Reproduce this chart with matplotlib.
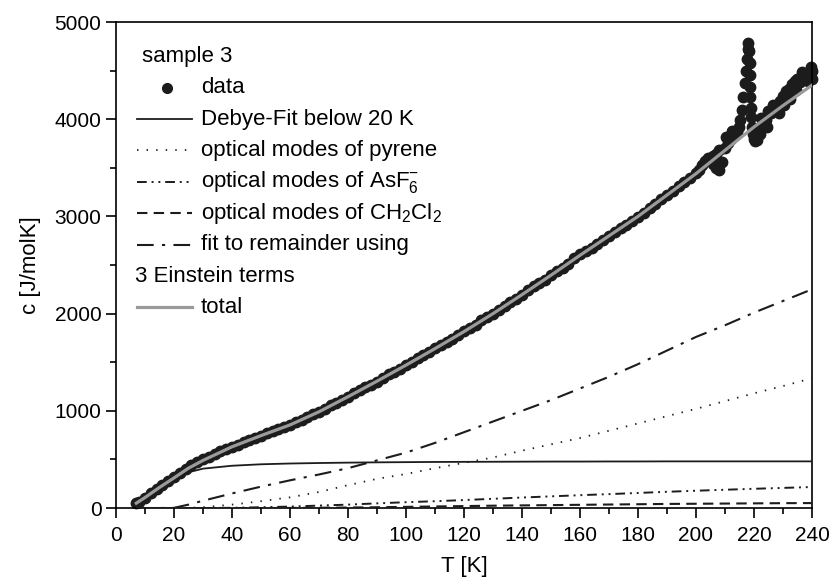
import matplotlib
matplotlib.use("Agg")
import matplotlib.pyplot as plt
from matplotlib.ticker import MultipleLocator

plt.rcParams['font.family'] = ['Liberation Sans', 'DejaVu Sans']
plt.rcParams['mathtext.fontset'] = 'custom'
plt.rcParams['mathtext.rm'] = 'Liberation Sans'

T_data = [7, 8, 10, 12, 14, 16, 18, 20, 22, 24, 26, 28, 30, 32, 34, 36, 38, 40,
          42, 44, 46, 48, 50, 52, 54, 56, 58, 60, 62, 64, 66, 68, 70, 72, 74, 76,
          78, 80, 82, 84, 86, 88, 90, 92, 94, 96, 98, 100, 102, 104, 106, 108,
          110, 112, 114, 116, 118, 120, 122, 124, 126, 128, 130, 132, 134, 136,
          138, 140, 142, 144, 146, 148, 150, 152, 154, 156, 158, 160, 162, 164,
          166, 168, 170, 172, 174, 176, 178, 180, 182, 184, 186, 188, 190, 192,
          194, 196, 198, 200, 201, 202, 203, 204, 205, 206, 207, 208, 209, 206,
          207, 208, 210, 211, 212, 213, 214, 214.8, 215.3, 215.8, 216.3, 216.8,
          217.3, 217.6, 217.9, 218.1, 218.3, 218.5, 218.6, 218.7, 218.8, 218.9,
          219.1, 219.4, 219.7, 220, 220.5, 221, 222, 223, 224, 225, 226, 227,
          228, 229, 230, 231, 232, 233, 234, 235, 236, 237, 238, 239, 240,
          221.5, 222.5, 224.5, 226.5, 228.5, 230.5, 232.5, 234.5, 236.5, 238.5,
          239.5, 240, 210.5, 212.5]
c_data = [50, 62, 105, 150, 195, 240, 282, 322, 365, 405, 440, 478, 505, 525,
          552, 590, 612, 628, 650, 680, 702, 720, 745, 770, 790, 808, 835, 858,
          880, 905, 938, 965, 985, 1020, 1055, 1085, 1110, 1140, 1180, 1212,
          1240, 1268, 1300, 1340, 1375, 1402, 1435, 1468, 1505, 1540, 1570,
          1604, 1645, 1680, 1708, 1742, 1782, 1818, 1850, 1885, 1930, 1965,
          1995, 2035, 2080, 2120, 2150, 2190, 2240, 2280, 2310, 2350, 2400,
          2440, 2470, 2510, 2570, 2610, 2640, 2670, 2720, 2760, 2800, 2840,
          2880, 2910, 2950, 2995, 3040, 3090, 3130, 3180, 3225, 3265, 3310,
          3350, 3400, 3450, 3480, 3530, 3570, 3600, 3580, 3540, 3500, 3480,
          3560, 3620, 3640, 3680, 3700, 3760, 3800, 3830, 3870, 3920, 3990,
          4100, 4230, 4370, 4500, 4620, 4720, 4780, 4700, 4580, 4450, 4330,
          4230, 4120, 4020, 3920, 3850, 3800, 3780, 3790, 3850, 3920, 3990,
          4080, 4060, 4110, 4130, 4190, 4240, 4290, 4310, 4360, 4390, 4410,
          4380, 4450, 4470, 4490, 4500, 3880, 4010, 3920, 4150, 4060, 4150,
          4210, 4300, 4490, 4390, 4540, 4410, 3820, 3880]

# fitted contributions
T_fit = [7, 10, 15, 20, 25, 30, 40, 50, 60, 70, 80, 90, 100, 110, 120, 130,
         140, 150, 160, 170, 180, 190, 200, 210, 220, 230, 240]
debye = [50, 108, 212, 305, 368, 405, 435, 450, 458, 463, 467, 470, 472, 474,
         475, 476, 477, 478, 478, 479, 479, 480, 480, 480, 480, 480, 480]
pyrene = [0, 0, 0, 0, 2, 8, 35, 70, 110, 165, 235, 300, 350, 410, 465, 520,
          590, 655, 720, 795, 870, 945, 1020, 1100, 1180, 1255, 1335]
asf6 = [0, 0, 0, 0, 0, 0, 2, 8, 15, 25, 35, 48, 60, 70, 82, 95, 108, 120, 132,
        143, 155, 167, 178, 188, 198, 207, 216]
ch2cl2 = [0, 0, 0, 0, 0, 0, 0, 0, 1, 3, 5, 8, 12, 16, 20, 24, 27, 30, 33, 36,
          39, 42, 44, 46, 48, 50, 51]
remainder = [0, 0, 0, 2, 35, 75, 150, 220, 285, 345, 410, 490, 570, 670, 780,
             890, 1000, 1110, 1230, 1350, 1480, 1620, 1760, 1880, 2010, 2130,
             2250]
total = [50, 108, 212, 310, 410, 490, 630, 745, 855, 990, 1145, 1305, 1470,
         1640, 1815, 2000, 2195, 2395, 2600, 2800, 3000, 3220, 3440, 3680,
         3920, 4140, 4350]

fig = plt.figure(figsize=(8.31, 5.81), dpi=100)
ax = fig.add_axes([0.1396, 0.1256, 0.8375, 0.8365])

ax.plot(T_data, c_data, 'o', color='#1c1c1c', markersize=7.5, clip_on=False, zorder=2)
ax.plot(T_fit, debye, '-', color='#1c1c1c', lw=1.3, zorder=3)
ax.plot(T_fit, pyrene, color='#1c1c1c', lw=1.3, linestyle=(0, (0.8, 4.5)), zorder=3)
ax.plot(T_fit, asf6, color='#1c1c1c', lw=1.4, linestyle=(0, (5, 2.5, 1, 2.5, 1, 2.5)), zorder=3)
ax.plot(T_fit, ch2cl2, color='#1c1c1c', lw=1.5, linestyle=(0, (5, 3)), zorder=3)
ax.plot(T_fit, remainder, color='#1c1c1c', lw=1.5, linestyle=(0, (8, 4, 1.5, 4)), zorder=3)
ax.plot(T_fit, total, '-', color='#9a9a9a', lw=2.3, zorder=4)

ax.set_xlim(0, 240)
ax.set_ylim(0, 5000)
ax.xaxis.set_major_locator(MultipleLocator(20))
ax.xaxis.set_minor_locator(MultipleLocator(10))
ax.yaxis.set_major_locator(MultipleLocator(1000))
ax.yaxis.set_minor_locator(MultipleLocator(500))
ax.tick_params(which='both', direction='out', width=1.2, labelsize=15, top=False, right=False)
ax.tick_params(which='major', length=7)
ax.tick_params(axis='x', which='major', pad=6)
ax.tick_params(which='minor', length=4)
for s in ax.spines.values():
    s.set_linewidth(1.2)
ax.set_xlabel('T [K]', fontsize=16, labelpad=8)
ax.set_ylabel('c [J/molK]', fontsize=16, labelpad=10)

# hand-made legend in axes fraction
rows = [0.929, 0.865, 0.8, 0.736, 0.671, 0.607, 0.542, 0.477, 0.413]
fs = 16
ax.text(0.037, rows[0], 'sample 3', transform=ax.transAxes, fontsize=fs, va='center')
ax.plot([0.073], [rows[1]], 'o', color='#1c1c1c', markersize=7, transform=ax.transAxes)
ax.text(0.122, rows[1], 'data', transform=ax.transAxes, fontsize=fs, va='center')
styles = [dict(linestyle='-', lw=1.3),
          dict(linestyle=(0, (0.8, 4.5)), lw=1.3),
          dict(linestyle=(0, (5, 2.5, 1, 2.5, 1, 2.5)), lw=1.4),
          dict(linestyle=(0, (5, 3)), lw=1.5),
          dict(linestyle=(0, (8, 4, 1.5, 4)), lw=1.5)]
labels = ['Debye-Fit below 20 K', 'optical modes of pyrene',
          r'optical modes of AsF$_\mathregular{6}^\mathregular{-}$',
          r'optical modes of CH$_\mathregular{2}$Cl$_\mathregular{2}$',
          'fit to remainder using']
for i, (st, lab) in enumerate(zip(styles, labels)):
    y = rows[i + 2]
    ax.plot([0.030, 0.109], [y, y], color='#1c1c1c', transform=ax.transAxes, **st)
    ax.text(0.122, y, lab, transform=ax.transAxes, fontsize=fs, va='center')
ax.text(0.027, rows[7], '3 Einstein terms', transform=ax.transAxes, fontsize=fs, va='center')
ax.plot([0.030, 0.109], [rows[8], rows[8]], color='#9a9a9a', lw=2.3, transform=ax.transAxes)
ax.text(0.122, rows[8], 'total', transform=ax.transAxes, fontsize=fs, va='center')

fig.savefig('out.png', dpi=100)
